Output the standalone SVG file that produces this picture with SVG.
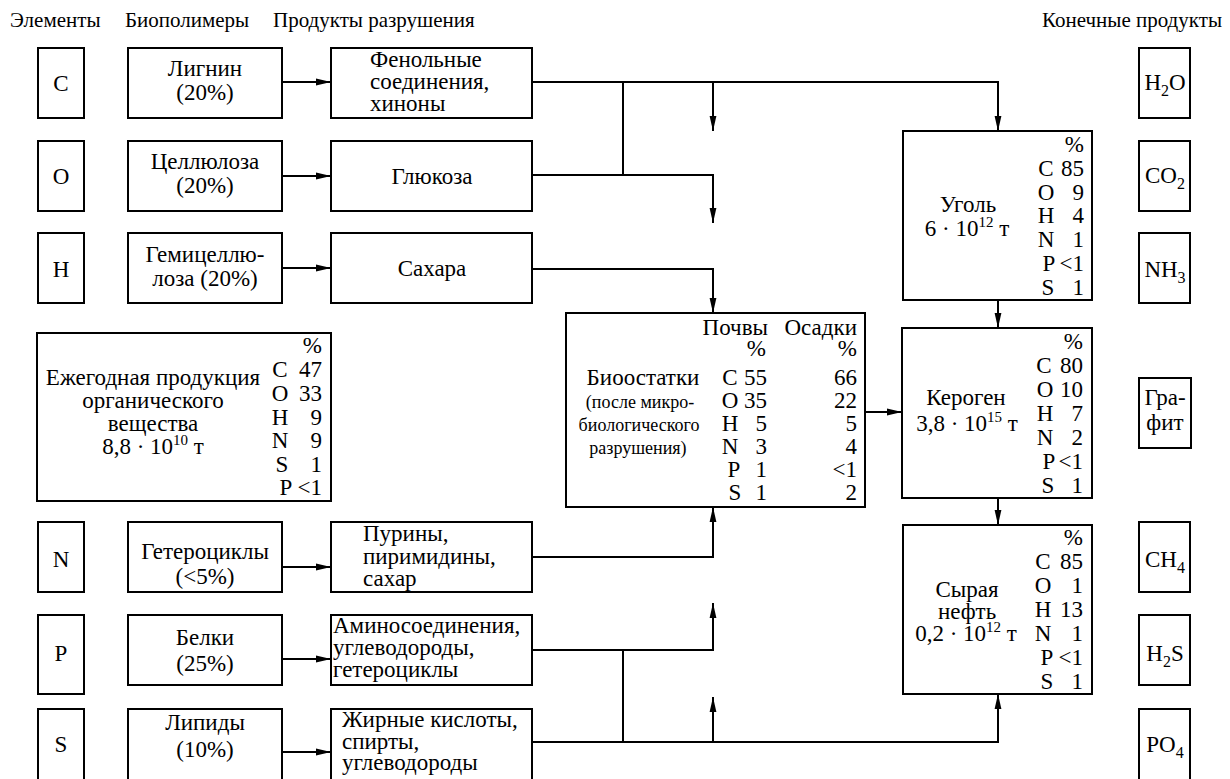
<svg xmlns="http://www.w3.org/2000/svg" width="1230" height="779" viewBox="0 0 1230 779">
<style>
.b{fill:none;stroke:#000;stroke-width:2}
.t{font-family:"Liberation Serif","DejaVu Serif",serif;font-size:23px;fill:#000}
.h{font-size:21px}
.sm{font-size:18px}
.c{text-anchor:middle}
.e{text-anchor:end}
.sup{font-size:15px}
.sub{font-size:16px}
.ln{fill:none;stroke:#000;stroke-width:2}
</style>
<defs>
<marker id="ah" markerUnits="userSpaceOnUse" markerWidth="16" markerHeight="8" refX="15" refY="4" orient="auto"><path d="M0,0.6 L15,4 L0,7.4 z" fill="#000"/></marker>
</defs>
<rect width="1230" height="779" fill="#fff"/>

<g id="headers" class="t h">
<text x="10" y="27">Элементы</text>
<text x="125" y="27">Биополимеры</text>
<text x="273" y="27">Продукты разрушения</text>
<text x="1222" y="27" class="e">Конечные продукты</text>
</g>

<g id="el-C"><rect class="b" x="38" y="48" width="46" height="70"/><text class="t c" x="61" y="91">C</text></g>
<g id="el-O"><rect class="b" x="38" y="141" width="46" height="70"/><text class="t c" x="61" y="184">O</text></g>
<g id="el-H"><rect class="b" x="38" y="233" width="46" height="70"/><text class="t c" x="61" y="277">H</text></g>
<g id="el-N"><rect class="b" x="38" y="522" width="46" height="70"/><text class="t c" x="61" y="567">N</text></g>
<g id="el-P"><rect class="b" x="38" y="615" width="46" height="79"/><text class="t c" x="61" y="661">P</text></g>
<g id="el-S"><rect class="b" x="38" y="709" width="46" height="72"/><text class="t c" x="61" y="752">S</text></g>

<g id="bp-lignin"><rect class="b" x="128" y="48" width="154" height="70"/><text class="t c" x="205" y="76">Лигнин</text><text class="t c" x="205" y="100">(20%)</text></g>
<g id="bp-cellulose"><rect class="b" x="128" y="141" width="154" height="70"/><text class="t c" x="205" y="169">Целлюлоза</text><text class="t c" x="205" y="193">(20%)</text></g>
<g id="bp-hemicellulose"><rect class="b" x="128" y="233" width="154" height="70"/><text class="t c" x="205" y="262">Гемицеллю-</text><text class="t c" x="205" y="286">лоза (20%)</text></g>
<g id="bp-hetero"><rect class="b" x="128" y="522" width="154" height="70"/><text class="t c" x="205" y="559">Гетероциклы</text><text class="t c" x="205" y="584">(&lt;5%)</text></g>
<g id="bp-proteins"><rect class="b" x="128" y="615" width="154" height="70"/><text class="t c" x="205" y="645">Белки</text><text class="t c" x="205" y="671">(25%)</text></g>
<g id="bp-lipids"><rect class="b" x="128" y="709" width="154" height="72"/><text class="t c" x="205" y="730">Липиды</text><text class="t c" x="205" y="757">(10%)</text></g>

<g id="pr-phenol"><rect class="b" x="331" y="48" width="201" height="70"/><text class="t" x="370" y="67">Фенольные</text><text class="t" x="370" y="89">соединения,</text><text class="t" x="370" y="111">хиноны</text></g>
<g id="pr-glucose"><rect class="b" x="331" y="141" width="201" height="70"/><text class="t c" x="432" y="184">Глюкоза</text></g>
<g id="pr-sugars"><rect class="b" x="331" y="233" width="201" height="70"/><text class="t c" x="432" y="276">Сахара</text></g>
<g id="pr-purines"><rect class="b" x="331" y="522" width="201" height="70"/><text class="t" x="363" y="541">Пурины,</text><text class="t" x="363" y="564">пиримидины,</text><text class="t" x="363" y="586">сахар</text></g>
<g id="pr-amino"><rect class="b" x="331" y="615" width="201" height="70"/><text class="t" x="333" y="633">Аминосоединения,</text><text class="t" x="333" y="655">углеводороды,</text><text class="t" x="333" y="677">гетероциклы</text></g>
<g id="pr-fatty"><rect class="b" x="331" y="709" width="201" height="72"/><text class="t" x="342" y="727">Жирные кислоты,</text><text class="t" x="342" y="749">спирты,</text><text class="t" x="342" y="770">углеводороды</text></g>

<g id="annual"><rect class="b" x="37" y="333" width="294" height="168"/>
<text class="t c" x="153" y="385">Ежегодная продукция</text>
<text class="t c" x="153" y="408">органического</text>
<text class="t c" x="153" y="431">вещества</text>
<text class="t c" x="153" y="454">8,8 · 10<tspan class="sup" dy="-9">10</tspan><tspan dy="9"> т</tspan></text>
<text class="t e" x="322" y="353">%</text>
<text class="t c" x="280" y="377">C</text><text class="t e" x="322" y="377">47</text>
<text class="t c" x="280" y="401">O</text><text class="t e" x="322" y="401">33</text>
<text class="t c" x="280" y="425">H</text><text class="t e" x="322" y="425">9</text>
<text class="t c" x="280" y="448">N</text><text class="t e" x="322" y="448">9</text>
<text class="t c" x="282" y="472">S</text><text class="t e" x="322" y="472">1</text>
<text class="t c" x="286" y="495">P</text><text class="t e" x="322" y="495">&lt;1</text>
</g>

<g id="bioremains"><rect class="b" x="566" y="313" width="299" height="194"/>
<text class="t e" x="768" y="335">Почвы</text><text class="t e" x="857" y="335">Осадки</text>
<text class="t e" x="766" y="356">%</text><text class="t e" x="857" y="356">%</text>
<text class="t c" x="643" y="385">Биоостатки</text>
<text class="t c sm" x="640" y="408">(после микро-</text>
<text class="t c sm" x="639" y="431">биологического</text>
<text class="t c sm" x="638" y="454">разрушения)</text>
<text class="t c" x="730" y="385">C</text><text class="t e" x="767" y="385">55</text><text class="t e" x="857" y="385">66</text>
<text class="t c" x="730" y="408">O</text><text class="t e" x="767" y="408">35</text><text class="t e" x="857" y="408">22</text>
<text class="t c" x="730" y="431">H</text><text class="t e" x="767" y="431">5</text><text class="t e" x="857" y="431">5</text>
<text class="t c" x="730" y="454">N</text><text class="t e" x="767" y="454">3</text><text class="t e" x="857" y="454">4</text>
<text class="t c" x="734" y="477">P</text><text class="t e" x="767" y="477">1</text><text class="t e" x="857" y="477">&lt;1</text>
<text class="t c" x="735" y="500">S</text><text class="t e" x="767" y="500">1</text><text class="t e" x="857" y="500">2</text>
</g>

<g id="coal"><rect class="b" x="903" y="131" width="189" height="169"/>
<text class="t c" x="968" y="212">Уголь</text>
<text class="t c" x="967" y="236">6 · 10<tspan class="sup" dy="-9">12</tspan><tspan dy="9"> т</tspan></text>
<text class="t e" x="1084" y="152">%</text>
<text class="t c" x="1046" y="176">C</text><text class="t e" x="1084" y="176">85</text>
<text class="t c" x="1046" y="200">O</text><text class="t e" x="1084" y="200">9</text>
<text class="t c" x="1046" y="223">H</text><text class="t e" x="1084" y="223">4</text>
<text class="t c" x="1046" y="247">N</text><text class="t e" x="1084" y="247">1</text>
<text class="t c" x="1049" y="271">P</text><text class="t e" x="1084" y="271">&lt;1</text>
<text class="t c" x="1048" y="295">S</text><text class="t e" x="1084" y="295">1</text>
</g>

<g id="kerogen"><rect class="b" x="902" y="328" width="190" height="170"/>
<text class="t c" x="966" y="405">Кероген</text>
<text class="t c" x="967" y="431">3,8 · 10<tspan class="sup" dy="-9">15</tspan><tspan dy="9"> т</tspan></text>
<text class="t e" x="1083" y="349">%</text>
<text class="t c" x="1044" y="373">C</text><text class="t e" x="1083" y="373">80</text>
<text class="t c" x="1045" y="397">O</text><text class="t e" x="1083" y="397">10</text>
<text class="t c" x="1045" y="421">H</text><text class="t e" x="1083" y="421">7</text>
<text class="t c" x="1045" y="445">N</text><text class="t e" x="1083" y="445">2</text>
<text class="t c" x="1049" y="469">P</text><text class="t e" x="1083" y="469">&lt;1</text>
<text class="t c" x="1048" y="493">S</text><text class="t e" x="1083" y="493">1</text>
</g>

<g id="oil"><rect class="b" x="903" y="525" width="189" height="169"/>
<text class="t c" x="967" y="597">Сырая</text>
<text class="t c" x="967" y="619">нефть</text>
<text class="t c" x="966" y="641">0,2 · 10<tspan class="sup" dy="-9">12</tspan><tspan dy="9"> т</tspan></text>
<text class="t e" x="1083" y="545">%</text>
<text class="t c" x="1043" y="569">C</text><text class="t e" x="1083" y="569">85</text>
<text class="t c" x="1043" y="593">O</text><text class="t e" x="1083" y="593">1</text>
<text class="t c" x="1043" y="617">H</text><text class="t e" x="1083" y="617">13</text>
<text class="t c" x="1043" y="641">N</text><text class="t e" x="1083" y="641">1</text>
<text class="t c" x="1047" y="665">P</text><text class="t e" x="1083" y="665">&lt;1</text>
<text class="t c" x="1047" y="689">S</text><text class="t e" x="1083" y="689">1</text>
</g>

<g id="end-H2O"><rect class="b" x="1139" y="48" width="51" height="70"/><text class="t c" x="1165" y="90">H<tspan class="sub" dy="6">2</tspan><tspan dy="-6">O</tspan></text></g>
<g id="end-CO2"><rect class="b" x="1139" y="141" width="51" height="70"/><text class="t c" x="1165" y="183">CO<tspan class="sub" dy="6">2</tspan></text></g>
<g id="end-NH3"><rect class="b" x="1139" y="233" width="51" height="70"/><text class="t c" x="1165" y="277">NH<tspan class="sub" dy="6">3</tspan></text></g>
<g id="end-graphite"><rect class="b" x="1139" y="378" width="52" height="70"/><text class="t c" x="1165" y="405">Гра-</text><text class="t c" x="1165" y="430">фит</text></g>
<g id="end-CH4"><rect class="b" x="1139" y="522" width="51" height="70"/><text class="t c" x="1165" y="567">CH<tspan class="sub" dy="6">4</tspan></text></g>
<g id="end-H2S"><rect class="b" x="1139" y="615" width="51" height="70"/><text class="t c" x="1165" y="661">H<tspan class="sub" dy="6">2</tspan><tspan dy="-6">S</tspan></text></g>
<g id="end-PO4"><rect class="b" x="1139" y="709" width="51" height="72"/><text class="t c" x="1165" y="752">PO<tspan class="sub" dy="6">4</tspan></text></g>

<g id="connectors">
<path class="ln" d="M282,82 H331" marker-end="url(#ah)"/>
<path class="ln" d="M282,176 H331" marker-end="url(#ah)"/>
<path class="ln" d="M282,268 H331" marker-end="url(#ah)"/>
<path class="ln" d="M282,567 H331" marker-end="url(#ah)"/>
<path class="ln" d="M282,659 H331" marker-end="url(#ah)"/>
<path class="ln" d="M282,752 H331" marker-end="url(#ah)"/>
<path class="ln" d="M532,82 H998 V131" marker-end="url(#ah)"/>
<path class="ln" d="M623,82 V175"/>
<path class="ln" d="M713,82 V131" marker-end="url(#ah)"/>
<path class="ln" d="M532,175 H713 V223" marker-end="url(#ah)"/>
<path class="ln" d="M532,269 H713 V313" marker-end="url(#ah)"/>
<path class="ln" d="M532,557 H713 V507" marker-end="url(#ah)"/>
<path class="ln" d="M532,650 H713 V603" marker-end="url(#ah)"/>
<path class="ln" d="M623,650 V742"/>
<path class="ln" d="M532,742 H998 V694" marker-end="url(#ah)"/>
<path class="ln" d="M713,742 V697" marker-end="url(#ah)"/>
<path class="ln" d="M865,412 H902" marker-end="url(#ah)"/>
<path class="ln" d="M998,300 V328" marker-end="url(#ah)"/>
<path class="ln" d="M998,498 V525" marker-end="url(#ah)"/>
</g>
</svg>
